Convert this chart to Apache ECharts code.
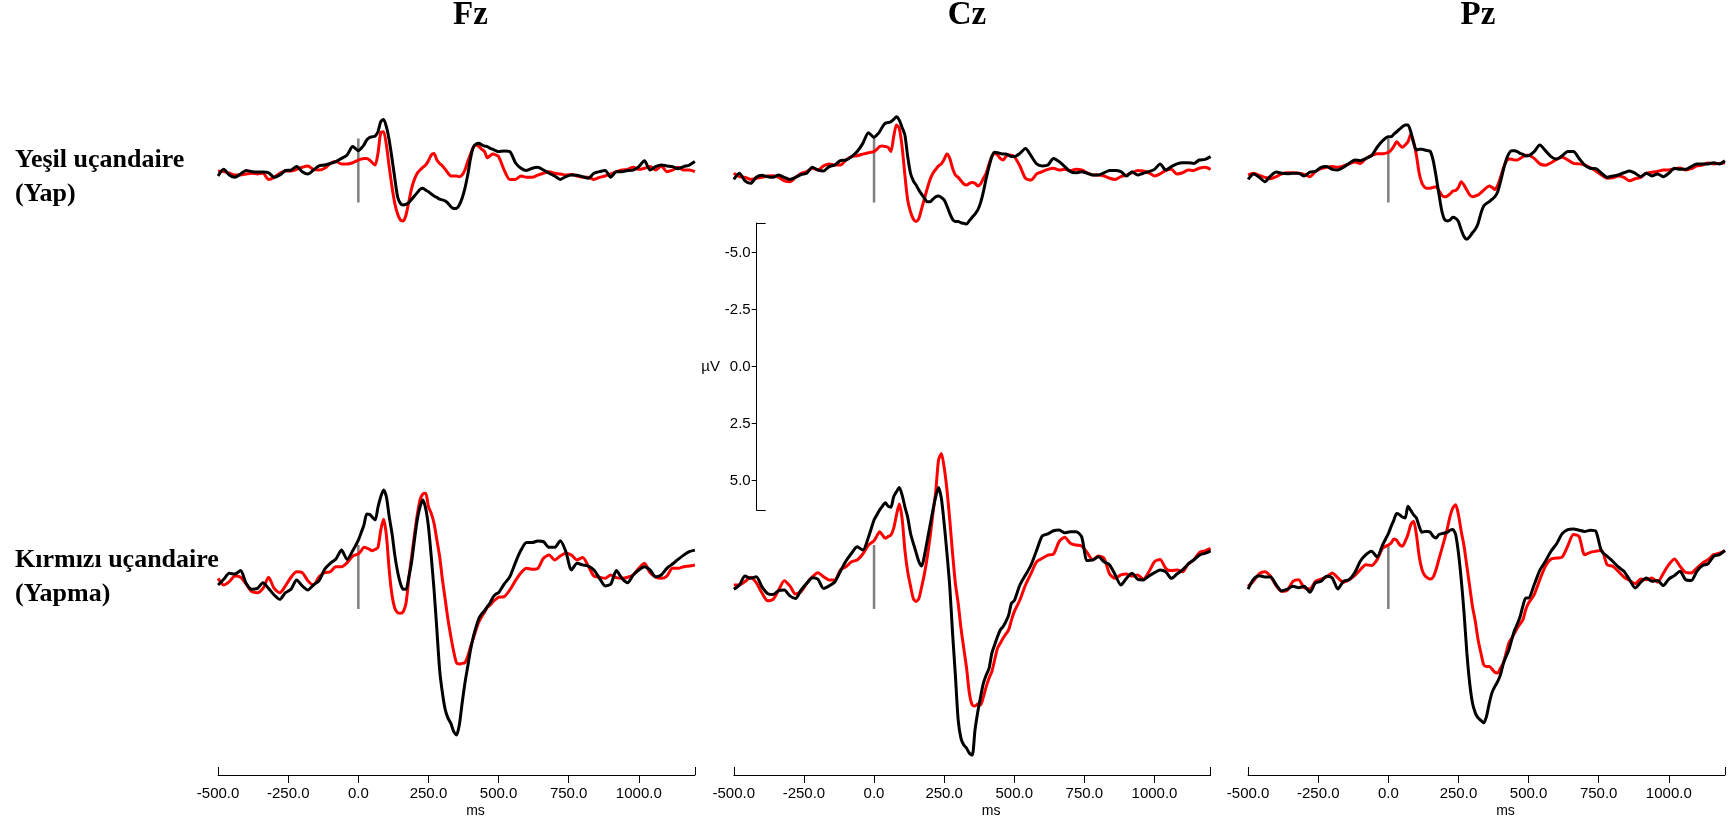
<!DOCTYPE html>
<html>
<head>
<meta charset="utf-8">
<script src="https://cdn.jsdelivr.net/npm/echarts@6/dist/echarts.min.js"></script>
<style>
  html, body { margin: 0; padding: 0; background: #fff; }
  #chart { width: 1735px; height: 824px; }
</style>
</head>
<body>
<div id="chart"></div>
<script>
// sample times (ms): 20 ms steps outside the main components, 10 ms steps in 0..490
const times = [
  -500,-480,-460,-440,-420,-400,-380,-360,-340,-320,-300,-280,-260,-240,-220,-200,-180,-160,-140,-120,-100,-80,-60,-40,-20,
  0,10,20,30,40,50,60,70,80,90,100,110,120,130,140,150,160,170,180,190,200,210,220,230,240,
  250,260,270,280,290,300,310,320,330,340,350,360,370,380,390,400,410,420,430,440,450,460,470,480,490,
  500,520,540,560,580,600,620,640,660,680,700,720,740,760,780,800,820,840,860,880,900,920,940,960,980,
  1000,1020,1040,1060,1080,1100,1120,1140,1160,1180,1200
];

// Yeşil uçandaire (Yap), µV
const fzGoRed = [
  0.02,0.05,0.12,0.2,0.2,0.15,0.12,0.15,0.12,0.39,0.3,0.12,0.02,0.02,-0.05,-0.14,-0.2,-0.05,-0.02,-0.1,-0.31,-0.39,-0.29,-0.29,-0.34,
  -0.46,-0.5,-0.53,-0.53,-0.46,-0.34,-0.24,-0.75,-1.66,-1.7,-1.12,-0.17,0.71,1.44,1.91,2.17,2.21,1.95,1.37,0.78,
  0.39,0.12,-0.02,-0.14,-0.24,-0.43,-0.68,-0.75,-0.46,-0.31,-0.2,-0.05,0.12,0.24,0.24,0.24,0.27,0.2,-0.02,-0.39,
  -0.72,-1.02,-1.12,-1.05,-0.93,-0.83,-0.56,-0.65,-0.72,-0.68,
  -0.61,-0.02,0.39,0.39,0.24,0.3,0.3,0.2,0.12,0.05,0.12,0.15,0.2,0.17,0.24,0.3,0.3,0.39,0.3,0.24,
  0.15,0.05,-0.02,-0.05,-0.14,-0.05,-0.1,-0.17,-0.02,-0.2,0.05,-0.02,-0.14,-0.02,-0.02,0.05
];
const fzGoBlack = [
  0.24,-0.05,0.2,0.3,0.15,0.0,0.05,0.07,0.07,0.1,0.3,0.2,0.0,-0.02,-0.17,0.05,0.15,-0.02,-0.2,-0.24,-0.31,-0.39,-0.53,-0.68,-1.05,
  -0.87,-0.97,-1.12,-1.34,-1.45,-1.48,-1.51,-1.7,-2.14,-2.24,-1.92,-1.34,-0.53,0.34,1.15,1.44,1.51,1.48,1.41,1.26,
  1.12,0.97,0.83,0.78,0.86,0.93,1.03,1.12,1.18,1.26,1.29,1.34,1.44,1.59,1.67,1.66,1.51,1.22,0.78,0.2,
  -0.53,-1.02,-1.16,-1.19,-1.12,-1.07,-1.05,-0.97,-0.93,-0.87,
  -0.83,-0.85,-0.83,-0.34,-0.1,0.0,-0.1,-0.14,-0.02,0.12,0.24,0.39,0.27,0.2,0.21,0.27,0.34,0.12,0.05,0.0,
  0.3,0.05,0.05,0.0,-0.02,-0.17,-0.43,-0.02,-0.17,-0.24,-0.2,-0.17,-0.08,-0.17,-0.24,-0.39
];
const czGoRed = [
  0.12,0.27,0.3,0.39,0.34,0.3,0.24,0.23,0.3,0.45,0.49,0.3,0.12,0.05,-0.1,-0.02,-0.2,-0.29,-0.24,-0.24,-0.46,-0.61,-0.65,-0.72,-0.78,
  -0.83,-0.93,-1.05,-1.08,-1.05,-1.02,-0.83,-1.48,-2.0,-1.85,-1.05,0.2,1.29,1.81,2.13,2.24,2.1,1.66,1.22,0.78,
  0.39,0.12,-0.05,-0.2,-0.29,-0.49,-0.72,-0.53,-0.1,0.2,0.3,0.45,0.59,0.64,0.56,0.53,0.56,0.68,0.59,0.34,
  0.12,-0.29,-0.61,-0.75,-0.68,-0.53,-0.46,-0.61,-0.68,-0.67,
  -0.61,-0.2,0.34,0.42,0.15,0.05,-0.05,-0.1,-0.02,-0.05,0.0,-0.05,-0.02,0.1,0.2,0.2,0.24,0.34,0.39,0.27,
  0.2,0.1,0.0,0.02,0.1,0.24,0.15,0.0,-0.05,0.15,0.1,-0.02,0.0,-0.1,-0.14,-0.05
];
const czGoBlack = [
  0.39,0.12,0.45,0.56,0.3,0.21,0.27,0.3,0.2,0.3,0.39,0.3,0.18,0.12,-0.14,-0.02,0.02,-0.17,-0.24,-0.43,-0.46,-0.61,-0.83,-1.19,-1.66,
  -1.45,-1.56,-1.7,-1.92,-2.07,-2.1,-2.14,-2.24,-2.36,-2.21,-1.89,-1.56,-0.61,0.12,0.45,0.64,0.86,1.05,1.22,1.37,
  1.37,1.26,1.15,1.12,1.18,1.29,1.56,1.88,2.14,2.24,2.24,2.29,2.32,2.35,2.2,2.05,1.91,1.73,1.41,0.93,
  0.34,-0.17,-0.61,-0.8,-0.78,-0.75,-0.72,-0.72,-0.67,-0.61,
  -0.61,-0.75,-0.97,-0.64,-0.29,-0.2,-0.24,-0.53,-0.39,-0.17,0.05,0.1,0.05,0.12,0.2,0.2,0.1,0.0,0.0,0.05,
  0.24,0.05,0.2,0.12,0.05,-0.05,-0.29,-0.02,-0.17,-0.29,-0.34,-0.34,-0.31,-0.46,-0.49,-0.61
];
const pzGoRed = [
  0.2,0.12,0.21,0.3,0.36,0.27,0.15,0.1,0.1,0.12,0.17,0.27,0.05,-0.08,-0.14,-0.17,-0.14,-0.2,-0.29,-0.37,-0.31,-0.52,-0.66,-0.74,-0.74,
  -0.8,-0.9,-1.07,-1.26,-1.12,-1.02,-1.12,-1.26,-1.59,-1.26,-0.68,0.12,0.56,0.74,0.78,0.78,0.74,0.71,0.88,1.07,
  1.15,1.12,1.03,0.9,0.88,0.74,0.49,0.64,0.86,1.07,1.15,1.12,1.07,0.97,0.86,0.75,0.68,0.74,0.83,0.64,
  0.3,-0.1,-0.39,-0.5,-0.49,-0.46,-0.46,-0.53,-0.61,-0.67,
  -0.67,-0.53,-0.29,-0.23,-0.34,-0.49,-0.58,-0.46,-0.31,-0.29,-0.24,-0.12,0.02,0.2,0.34,0.32,0.24,0.3,0.45,0.36,
  0.3,0.12,0.08,0.04,-0.02,-0.02,-0.08,-0.11,-0.02,-0.08,-0.2,-0.24,-0.33,-0.29,-0.31,-0.34
];
const pzGoBlack = [
  0.39,0.15,0.3,0.49,0.24,0.07,0.12,0.14,0.12,0.12,0.24,0.07,0.04,-0.14,-0.17,-0.05,-0.02,-0.14,-0.31,-0.46,-0.43,-0.53,-0.65,-1.02,-1.31,
  -1.48,-1.48,-1.6,-1.7,-1.81,-1.92,-2.0,-2.0,-1.7,-1.22,-0.9,-0.93,-0.93,-0.9,-0.87,-0.83,-0.43,0.24,1.0,1.73,
  2.14,2.21,2.17,2.05,2.1,2.24,2.61,2.9,3.02,2.9,2.73,2.58,2.32,1.88,1.56,1.44,1.37,1.26,1.15,0.93,
  0.49,-0.02,-0.46,-0.75,-0.87,-0.87,-0.83,-0.75,-0.71,-0.64,
  -0.65,-0.83,-1.12,-0.87,-0.61,-0.5,-0.65,-0.83,-0.83,-0.53,-0.24,-0.1,-0.08,0.12,0.3,0.24,0.2,0.1,0.02,0.12,
  0.27,0.12,0.24,0.15,0.27,0.12,-0.1,-0.05,-0.05,-0.17,-0.29,-0.29,-0.29,-0.34,-0.29,-0.43
];

// Kırmızı uçandaire (Yapma), µV
const fzNoGoRed = [
  0.06,0.35,0.2,-0.04,0.01,0.31,0.64,0.69,0.5,0.01,0.5,0.69,0.39,0.01,-0.23,-0.19,0.16,0.35,-0.01,-0.19,-0.23,-0.45,-0.45,-0.63,-0.92,
  -1.01,-1.15,-1.3,-1.27,-1.21,-1.15,-1.21,-1.3,-2.06,-2.53,-1.84,-0.31,0.79,1.37,1.56,1.59,1.52,1.15,0.06,-0.89,
  -1.84,-2.72,-3.38,-3.64,-3.67,-3.08,-2.79,-2.35,-1.62,-0.89,0.13,1.01,1.89,2.62,3.27,3.76,3.82,3.79,3.76,3.49,
  3.06,2.69,2.3,1.96,1.74,1.54,1.33,1.23,1.08,0.98,
  0.89,0.86,0.57,0.16,-0.19,-0.38,-0.34,-0.38,-0.82,-0.96,-0.75,-0.92,-1.04,-0.96,-0.75,-0.86,-0.48,-0.04,0.01,0.06,
  -0.09,0.03,0.06,0.01,-0.09,-0.38,-0.6,-0.19,0.01,0.06,-0.04,-0.38,-0.38,-0.45,-0.48,-0.53
];
const fzNoGoBlack = [
  0.35,0.1,-0.16,-0.13,-0.28,0.28,0.54,0.5,0.25,0.5,0.79,0.98,0.69,0.54,0.13,0.39,0.57,0.35,0.16,-0.34,-0.6,-0.79,-1.18,-0.77,-1.15,
  -1.62,-1.94,-2.28,-2.76,-2.75,-2.62,-2.5,-3.06,-3.52,-3.82,-3.52,-2.65,-1.92,-0.96,-0.23,0.28,0.54,0.54,0.0,-0.67,
  -1.62,-2.5,-3.08,-3.38,-3.01,-2.21,-0.89,0.57,2.32,4.08,5.1,5.83,6.2,6.42,6.78,6.93,6.49,5.54,4.66,3.93,
  3.2,2.62,2.18,1.81,1.62,1.48,1.3,1.13,0.89,0.75,
  0.69,0.31,-0.01,-0.63,-1.18,-1.51,-1.51,-1.58,-1.55,-1.3,-1.3,-1.59,-1.11,-0.31,-0.6,-0.53,-0.48,-0.31,0.06,0.39,
  0.31,-0.28,0.06,0.25,-0.09,-0.31,-0.45,-0.31,-0.01,-0.09,-0.38,-0.57,-0.77,-0.96,-1.11,-1.18
];
const czNoGoRed = [
  0.35,0.35,0.2,0.01,0.25,0.69,1.04,0.98,0.57,0.16,0.39,0.75,0.64,0.28,-0.01,-0.19,-0.01,0.13,0.13,-0.31,-0.45,-0.67,-0.75,-1.01,-1.4,
  -1.59,-1.8,-1.99,-1.84,-1.7,-1.77,-1.84,-2.13,-2.72,-3.2,-2.57,-1.18,-0.23,0.39,0.94,1.08,0.94,0.42,-0.16,-0.89,
  -1.77,-2.79,-3.74,-5.13,-5.42,-4.81,-3.82,-2.5,-1.04,0.28,1.15,2.25,3.13,4.01,5.1,5.61,5.66,5.57,5.61,5.25,
  4.81,4.44,4.15,3.64,3.13,2.91,2.69,2.5,2.32,1.89,
  1.52,1.01,0.35,-0.16,-0.67,-0.82,-0.96,-1.01,-1.55,-1.74,-1.48,-1.4,-1.36,-1.07,-0.75,-0.92,-0.82,-0.13,0.06,-0.09,
  -0.13,-0.04,-0.09,0.1,-0.23,-0.67,-0.77,-0.38,-0.28,-0.31,-0.23,-0.57,-0.75,-1.07,-1.15,-1.26
];
const czNoGoBlack = [
  0.54,0.35,-0.04,0.06,-0.01,0.42,0.72,0.77,0.6,0.57,0.83,0.94,0.57,0.28,0.03,0.1,0.5,0.39,0.22,-0.25,-0.7,-1.04,-1.33,-1.18,-1.74,
  -2.5,-2.72,-2.94,-3.11,-3.26,-3.11,-3.06,-3.52,-3.74,-3.93,-3.6,-3.08,-2.62,-1.92,-1.48,-1.07,-0.67,-0.48,-0.96,-1.62,
  -2.28,-2.94,-3.52,-3.93,-3.45,-2.35,-1.04,0.42,2.47,4.3,6.27,7.08,7.37,7.51,7.73,7.81,6.71,5.91,5.25,4.66,
  4.3,4.01,3.35,2.98,2.62,2.32,2.18,1.96,1.67,1.15,
  1.04,0.35,-0.09,-0.53,-1.18,-1.8,-1.89,-2.03,-2.06,-1.94,-1.99,-1.99,-1.77,-0.72,-0.75,-0.89,-0.67,-0.53,-0.09,0.35,
  0.06,-0.16,0.1,0.13,-0.04,-0.19,-0.31,-0.23,0.06,-0.13,-0.31,-0.57,-0.75,-0.96,-1.04,-1.15
];
const pzNoGoRed = [
  0.41,0.16,-0.15,-0.23,-0.03,0.38,0.63,0.58,0.19,0.12,0.48,0.53,0.19,0.09,0.0,-0.18,0.04,0.23,0.12,-0.06,-0.32,-0.54,-0.5,-0.76,-1.27,
  -1.4,-1.49,-1.67,-1.61,-1.42,-1.35,-1.56,-1.86,-2.3,-2.44,-1.86,-0.91,-0.32,-0.06,0.04,0.09,0.0,-0.32,-0.76,-1.2,
  -1.64,-2.11,-2.66,-3.03,-3.17,-2.73,-2.0,-1.35,-0.47,0.41,1.29,1.94,2.75,3.33,3.85,3.92,3.92,4.04,4.18,4.21,
  3.99,3.77,3.33,2.89,2.68,2.46,2.24,2.05,1.87,1.43,
  1.14,0.77,0.12,-0.47,-0.79,-0.83,-0.88,-1.37,-1.86,-1.78,-0.98,-1.08,-1.13,-1.17,-0.54,-0.47,-0.25,0.0,0.15,0.29,
  0.09,0.12,0.04,0.23,-0.15,-0.54,-0.79,-0.47,-0.2,-0.18,-0.39,-0.61,-0.76,-0.98,-1.05,-1.15
];
const pzNoGoBlack = [
  0.53,0.09,-0.06,0.0,0.0,0.34,0.61,0.53,0.41,0.47,0.41,0.67,0.26,0.19,-0.03,0.04,0.53,0.19,0.12,-0.18,-0.69,-0.98,-1.13,-0.88,-1.42,
  -1.9,-2.22,-2.51,-2.78,-2.73,-2.63,-2.59,-3.1,-2.92,-2.73,-2.59,-2.22,-1.96,-2.0,-2.0,-1.96,-1.78,-1.71,-1.86,-1.9,
  -1.93,-1.96,-2.05,-2.08,-1.86,-1.05,0.12,1.58,3.33,4.65,5.53,5.96,6.18,6.29,6.4,6.11,5.53,5.06,4.8,4.58,
  4.28,3.8,3.48,3.19,2.75,2.34,2.05,1.73,1.26,0.92,
  0.92,0.34,-0.29,-0.69,-1.13,-1.46,-1.9,-2.08,-2.11,-2.05,-2.0,-2.05,-2.0,-1.13,-0.91,-0.69,-0.44,-0.25,0.12,0.48,
  0.23,0.04,0.19,0.15,0.38,0.09,-0.06,-0.25,0.12,0.15,-0.25,-0.5,-0.58,-0.91,-0.98,-1.17
];

const electrodes = ['Fz', 'Cz', 'Pz'];
const conditions = ['Yeşil uçandaire\n(Yap)', 'Kırmızı uçandaire\n(Yapma)'];
const msTicks = [-500, -250, 0, 250, 500, 750, 1000];
const uvTicks = [-5, -2.5, 0, 2.5, 5];
const stimMarker = [-1.4, 1.4];   // grey onset bar at 0 ms, µV

const redTraces = [[fzGoRed, czGoRed, pzGoRed], [fzNoGoRed, czNoGoRed, pzNoGoRed]];
const blackTraces = [[fzGoBlack, czGoBlack, pzGoBlack], [fzNoGoBlack, czNoGoBlack, pzNoGoBlack]];

// layout (px)
const colLeft = [218.1, 733.8, 1248.1];
const colWidth = 476.8;
const titleX = [470.5, 967, 1478];
const pxPerUv = 22.8;
const rowZero = [170.5, 577];
const rowRange = [[-3.5, 3.5], [-6, 9]];
const msAxisY = 775;
const scaleX = 756.7, scaleZero = 366.7, scaleEnd = 6.3;

const axisFont = { color: '#000', fontFamily: 'Liberation Sans, Arial, sans-serif', fontSize: 15 };
const black = { color: '#000', width: 1 };

const grid = [], xAxis = [], yAxis = [], series = [];

// the six waveform panels
for (let r = 0; r < 2; r++) {
  for (let c = 0; c < 3; c++) {
    const i = grid.length;
    grid.push({
      left: colLeft[c], width: colWidth,
      top: rowZero[r] + rowRange[r][0] * pxPerUv,
      height: (rowRange[r][1] - rowRange[r][0]) * pxPerUv,
      outerBoundsMode: 'none'
    });
    xAxis.push({ gridIndex: i, type: 'value', min: -500, max: 1200, show: false });
    yAxis.push({ gridIndex: i, type: 'value', inverse: true, min: rowRange[r][0], max: rowRange[r][1], show: false });
    const common = { type: 'line', xAxisIndex: i, yAxisIndex: i, showSymbol: false, silent: true, animation: false };
    series.push(Object.assign({}, common, {
      data: stimMarker.map(v => [0, v]),
      lineStyle: { color: '#808080', width: 2.5 }, z: 1
    }));
    series.push(Object.assign({}, common, {
      data: times.map((t, k) => [t, redTraces[r][c][k]]),
      smooth: 0.25, lineStyle: { color: '#ff0000', width: 3 }, z: 2
    }));
    series.push(Object.assign({}, common, {
      data: times.map((t, k) => [t, blackTraces[r][c][k]]),
      smooth: 0.25, lineStyle: { color: '#000000', width: 3 }, z: 3
    }));
  }
}

// ms axes under each column
for (let c = 0; c < 3; c++) {
  const g = grid.length;
  grid.push({ left: colLeft[c], width: colWidth, top: msAxisY - 50, height: 50, outerBoundsMode: 'none' });
  yAxis.push({ gridIndex: g, type: 'value', min: 0, max: 1, show: false });
  xAxis.push({
    gridIndex: g, type: 'value', min: -500, max: 1200, position: 'bottom',
    axisLine: { show: true, onZero: false, lineStyle: black },
    axisTick: { show: true, customValues: msTicks.slice(1), length: 8, lineStyle: black },
    axisLabel: { show: true, customValues: msTicks, formatter: v => v.toFixed(1), margin: 11, ...axisFont },
    splitLine: { show: false },
    name: 'ms', nameLocation: 'middle', nameGap: 29,
    nameTextStyle: { ...axisFont, fontSize: 14, padding: [0, 0, 0, 38] }
  });
  xAxis.push({
    gridIndex: g, type: 'value', min: -500, max: 1200, position: 'bottom',
    axisLine: { show: false },
    axisTick: { show: true, inside: true, customValues: [-500, 1200], length: 8, lineStyle: black },
    axisLabel: { show: false }, splitLine: { show: false }
  });
}

// µV scale bar
const sg = grid.length;
grid.push({
  left: scaleX, width: 20,
  top: scaleZero - scaleEnd * pxPerUv, height: 2 * scaleEnd * pxPerUv,
  outerBoundsMode: 'none'
});
xAxis.push({ gridIndex: sg, type: 'value', min: 0, max: 1, show: false });
yAxis.push({
  gridIndex: sg, type: 'value', position: 'left', inverse: true, min: -scaleEnd, max: scaleEnd,
  axisLine: { show: true, lineStyle: black },
  axisTick: { show: true, customValues: uvTicks, length: 5, lineStyle: black },
  axisLabel: { show: true, customValues: uvTicks, formatter: v => v.toFixed(1), margin: 6, ...axisFont },
  splitLine: { show: false },
  name: 'µV', nameLocation: 'middle', nameRotate: 0, nameGap: 36,
  nameTextStyle: { ...axisFont }
});
yAxis.push({
  gridIndex: sg, type: 'value', position: 'left', inverse: true, min: -scaleEnd, max: scaleEnd,
  axisLine: { show: false },
  axisTick: { show: true, inside: true, customValues: [-scaleEnd, scaleEnd], length: 9, lineStyle: black },
  axisLabel: { show: false }, splitLine: { show: false }
});

const serif = { fontFamily: 'Liberation Serif, Times New Roman, serif', fontWeight: 'bold', color: '#000' };
const title = electrodes.map((e, c) => ({
  text: e, left: titleX[c], top: -1, textAlign: 'center', padding: 0,
  textStyle: { ...serif, fontSize: 33, lineHeight: 33 }
})).concat(conditions.map((t, r) => ({
  text: t, left: 15, top: [143.5, 543.5][r], padding: 0,
  textStyle: { ...serif, fontSize: 26, lineHeight: 34 }
})));

const chart = echarts.init(document.getElementById('chart'));
chart.setOption({ animation: false, title, grid, xAxis, yAxis, series });
</script>
</body>
</html>
